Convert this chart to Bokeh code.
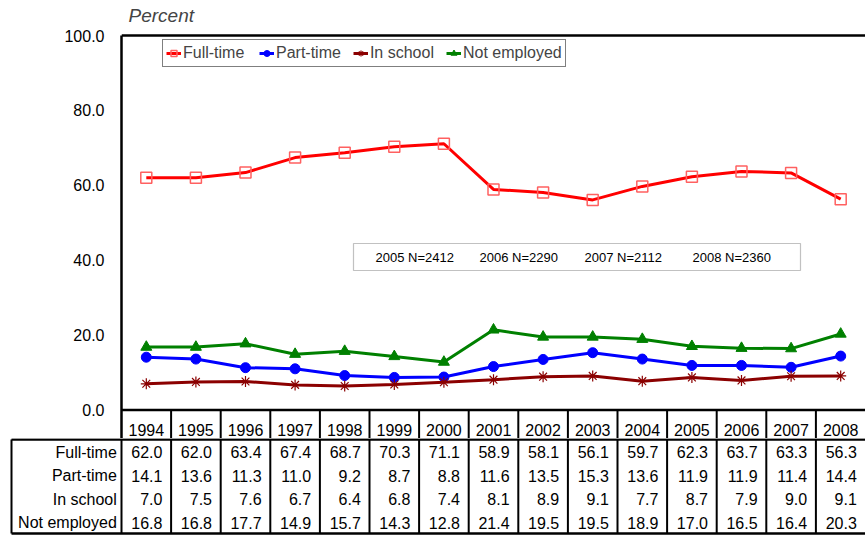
from bokeh.plotting import figure
from bokeh.layouts import column
from bokeh.models import (Range1d, FixedTicker, NumeralTickFormatter, Label,
                          BoxAnnotation, Span)
from bokeh.core.properties import value
from bokeh.embed import file_html
from bokeh.resources import INLINE

# ---------------- data ----------------
years = [1994, 1995, 1996, 1997, 1998, 1999, 2000, 2001, 2002, 2003, 2004, 2005, 2006, 2007, 2008]
full_time = [62.0, 62.0, 63.4, 67.4, 68.7, 70.3, 71.1, 58.9, 58.1, 56.1, 59.7, 62.3, 63.7, 63.3, 56.3]
part_time = [14.1, 13.6, 11.3, 11.0, 9.2, 8.7, 8.8, 11.6, 13.5, 15.3, 13.6, 11.9, 11.9, 11.4, 14.4]
in_school = [7.0, 7.5, 7.6, 6.7, 6.4, 6.8, 7.4, 8.1, 8.9, 9.1, 7.7, 8.7, 7.9, 9.0, 9.1]
not_employed = [16.8, 16.8, 17.7, 14.9, 15.7, 14.3, 12.8, 21.4, 19.5, 19.5, 18.9, 17.0, 16.5, 16.4, 20.3]
series_names = ["Full-time", "Part-time", "In school", "Not employed"]
y_ticks = [0, 20, 40, 60, 80, 100]
n_years = [2005, 2006, 2007, 2008]
n_counts = [2412, 2290, 2112, 2360]

# ---------------- layout constants (pixels) ----------------
FONT = "Liberation Sans"
W = 865
TOP_H = 438          # chart + year header row
TBL_H = 97           # table rows
LEFT = 121
ncol = len(years)
COL_W = (W - LEFT) / ncol
PX_UNIT = 3.745
TOP_PAD = 35         # pixels above the 100 line
HEAD_PX = TOP_H - TOP_PAD - 100 * PX_UNIT
Y_END = 100 + TOP_PAD / PX_UNIT
Y_START = -HEAD_PX / PX_UNIT


def dx(px):
    return px / COL_W


def dy(px):
    return px / PX_UNIT


# ================= chart figure =================
p = figure(width=W, height=TOP_H, x_range=Range1d(0, ncol), y_range=Range1d(Y_START, Y_END),
           x_axis_location=None, y_axis_location="left", toolbar_location=None,
           output_backend="svg", min_border_left=LEFT, min_border_right=0,
           min_border_top=0, min_border_bottom=0, title=None)
p.frame_align = False
p.grid.visible = False
p.outline_line_color = None
p.background_fill_color = "white"
p.border_fill_color = "white"

ax = p.yaxis[0]
ax.ticker = FixedTicker(ticks=y_ticks)
ax.formatter = NumeralTickFormatter(format="0.0")
ax.major_label_text_font = FONT
ax.major_label_text_font_size = "16px"
ax.major_label_text_color = "black"
ax.major_tick_out = 0
ax.major_tick_in = 0
ax.minor_tick_out = 0
ax.minor_tick_in = 0
ax.axis_line_color = "black"
ax.axis_line_width = 2.5
ax.bounds = (Y_START, 100)
ax.major_label_standoff = 17

xs = [i + 0.5 for i in range(ncol)]

p.line(xs, full_time, line_color="#FF0000", line_width=3, legend_label=series_names[0])
p.scatter(xs, full_time, marker="square", size=11, fill_color=None, line_color="#FF6060",
          line_width=1.5, legend_label=series_names[0])

p.line(xs, part_time, line_color="#0000FF", line_width=3, legend_label=series_names[1])
p.scatter(xs, part_time, marker="circle", size=10, fill_color="#0000FF", line_color="#0000FF",
          legend_label=series_names[1])

p.line(xs, in_school, line_color="#8B0000", line_width=3, legend_label=series_names[2])
p.scatter(xs, in_school, marker="asterisk", size=11, line_color="#8B0000", line_width=1.2,
          legend_label=series_names[2])

p.line(xs, not_employed, line_color="#008000", line_width=3, legend_label=series_names[3])
p.scatter(xs, not_employed, marker="triangle", size=11, fill_color="#008000", line_color="#008000",
          legend_label=series_names[3])

lg = p.legend[0]
lg.orientation = "horizontal"
lg.location = (41, TOP_H - 41 - 26)
lg.label_text_font = FONT
lg.label_text_font_size = "16px"
lg.glyph_width = 15
lg.glyph_height = 20
lg.label_height = 20
lg.label_width = 64
lg.label_standoff = 2
lg.spacing = 12
lg.padding = 3
lg.margin = 0
lg.border_line_color = "black"
lg.border_line_width = 1
lg.background_fill_color = "white"
lg.background_fill_alpha = 1

# frame top border and chart bottom line
p.add_layout(Span(location=100, dimension="width", line_color="black", line_width=2.5))
p.add_layout(Span(location=0, dimension="width", line_color="black", line_width=2.5))

# N box
p.add_layout(BoxAnnotation(left=dx(232), right=dx(679), top=44.46, bottom=37.25,
                           fill_color=None, line_color="#333333", line_width=1.2))
n_x = [dx(px) for px in (254, 358, 463, 571)]
p.text(x=n_x, y=[40.77] * len(n_years),
       text=[f"{yr}  N={n}" for yr, n in zip(n_years, n_counts)],
       text_align="left", text_baseline="middle", text_font=value(FONT),
       text_font_size="13px", text_color="black")

# "Percent"
p.add_layout(Label(x=dx(7), y=100 + dy(20), text="Percent", text_font=FONT,
                   text_font_style="italic", text_font_size="19px",
                   text_baseline="middle", text_align="left"))

# header row: year separators and years
sep = list(range(1, ncol))
p.segment(x0=sep, y0=[0] * len(sep), x1=sep, y1=[Y_START] * len(sep),
          line_color="black", line_width=2)
p.text(x=xs, y=[-dy(19.5)] * ncol, text=[str(y) for y in years], text_align="center",
       text_baseline="middle", text_font=value(FONT), text_font_size="16px", text_color="black")

# ================= table figure =================
x_left = -dx(LEFT - 11)
t = figure(width=W, height=TBL_H, x_range=Range1d(-dx(LEFT), ncol), y_range=Range1d(-TBL_H, 0),
           x_axis_location=None, y_axis_location=None, toolbar_location=None,
           output_backend="svg", min_border_left=0, min_border_right=0,
           min_border_top=0, min_border_bottom=0, title=None)
t.frame_align = False
t.grid.visible = False
t.outline_line_color = None
t.background_fill_color = "white"
t.border_fill_color = "white"

ROW_TOP, ROW_BOT = 1, 95
row_px = (ROW_BOT - ROW_TOP) / len(series_names)
# horizontal borders
t.segment(x0=[x_left, x_left], y0=[-ROW_TOP, -ROW_BOT], x1=[ncol, ncol], y1=[-ROW_TOP, -ROW_BOT],
          line_color="black", line_width=2.5)
# vertical borders
vx = [x_left] + list(range(0, ncol))
t.segment(x0=vx, y0=[-ROW_TOP] * len(vx), x1=vx, y1=[-ROW_BOT] * len(vx),
          line_color="black", line_width=2)

row_y = [-(ROW_TOP + 1 + row_px * (k + 0.5)) for k in range(len(series_names))]
all_series = [full_time, part_time, in_school, not_employed]
cx, cy, ct = [], [], []
for k, ser in enumerate(all_series):
    for i, v in enumerate(ser):
        cx.append(i + 1 - dx(8.7))
        cy.append(row_y[k])
        ct.append(f"{v:.1f}")
t.text(x=cx, y=cy, text=ct, text_align="right", text_baseline="middle",
       text_font=value(FONT), text_font_size="16px", text_color="black")
t.text(x=[-dx(4.7)] * len(series_names), y=row_y, text=series_names, text_align="right",
       text_baseline="middle", text_font=value(FONT), text_font_size="16px", text_color="black")

layout = column(p, t)
open("out.html", "w").write(file_html(layout, INLINE))
